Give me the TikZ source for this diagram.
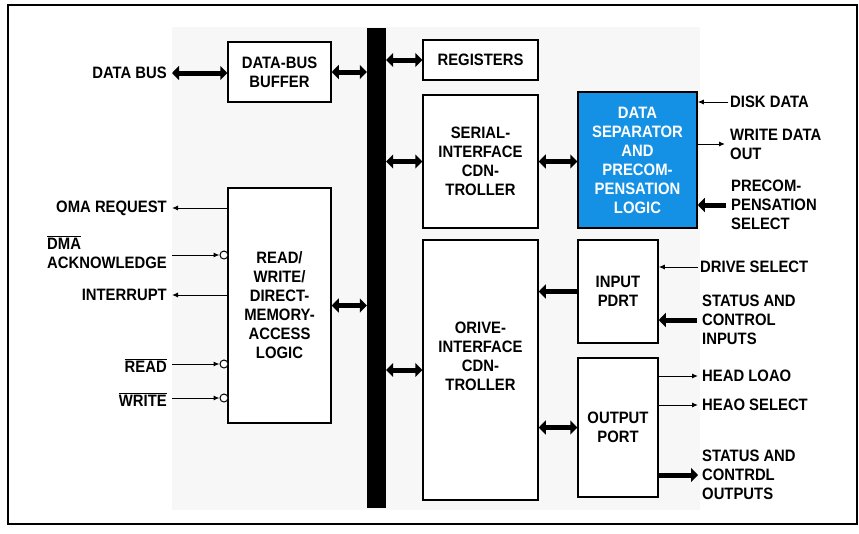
\documentclass[tikz,border=0pt]{standalone}
\usepackage{fontspec}
\setmainfont{Liberation Sans}[FakeStretch=0.9]
\usetikzlibrary{arrows.meta}
\definecolor{sepblue}{RGB}{20,145,228}
\newcommand{\ovl}[1]{$\overline{\mbox{#1}}$}

\begin{document}
\begin{tikzpicture}[x=1pt,y=-1pt,
    font=\fontsize{16.5}{19}\selectfont\bfseries,
    blok/.style={draw,line width=1.5pt,fill=white,align=center,inner sep=0pt},
    teks/.style={inner sep=0pt,align=left},
    sinyal/.style={line width=1pt,-{Latex[length=6pt,width=5pt]}},
    tebal/.style={line width=5pt,-{Triangle[length=7pt,width=14pt]}},
    duaarah/.style={line width=5pt,{Triangle[length=7pt,width=14pt]}-{Triangle[length=7pt,width=14pt]}},
    bulat/.style={circle,draw,line width=1pt,fill=white,minimum size=8pt,inner sep=0pt}]
    \useasboundingbox (0,0) rectangle (859,533);
    % Bingkai
    \draw[line width=1.5pt] (8,5) rectangle (857,524);
    \fill[black!3] (172,27) rectangle (700,510);
    % Bus
    \node[fill=black,minimum width=19pt,minimum height=480pt,inner sep=0pt] (bus) at (376.5,268) {};
    % Blok
    \node[blok,minimum width=103pt,minimum height=60pt] (buf) at (279.5,72) {DATA-BUS\\BUFFER};
    \node[blok,minimum width=103pt,minimum height=235pt] (rw) at (279.5,305.5) {READ/\\WRITE/\\DIRECT-\\MEMORY-\\ACCESS\\LOGIC};
    \node[blok,minimum width=115pt,minimum height=40pt] (reg) at (480.5,60) {REGISTERS};
    \node[blok,minimum width=115pt,minimum height=133pt] (sic) at (480.5,161.5) {SERIAL-\\INTERFACE\\CDN-\\TROLLER};
    \node[blok,minimum width=115pt,minimum height=260pt] (dic) at (480.5,370) {};
    \node[inner sep=0pt,align=center] (dictext) at ([yshift=14pt]dic.center) {ORIVE-\\INTERFACE\\CDN-\\TROLLER};
    \node[blok,fill=sepblue,text=white,minimum width=119pt,minimum height=136pt] (dsp) at (637.5,160) {DATA\\SEPARATOR\\AND\\PRECOM-\\PENSATION\\LOGIC};
    \node[blok,minimum width=80pt,minimum height=103pt] (inp) at (618,291.5) {INPUT\\PDRT};
    \node[blok,minimum width=80pt,minimum height=139pt] (outp) at (618,427.5) {OUTPUT\\PORT};
    % Ke bus
    \draw[duaarah] (buf.east) -- (bus.west |- buf.east);
    \draw[duaarah] (rw.east) -- (bus.west |- rw.east);
    \draw[duaarah] (bus.east |- reg.west) -- (reg.west);
    \draw[duaarah] (bus.east |- sic.west) -- (sic.west);
    \draw[duaarah] (bus.east |- dic.west) -- (dic.west);
    \draw[duaarah] (sic.east) -- (dsp.west |- sic.east);
    \draw[tebal] (inp.west) -- (dic.east |- inp.west);
    \draw[duaarah] (outp.west) -- (dic.east |- outp.west);
    % Sinyal kiri
    \node[teks,anchor=east] (databus) at (167,73) {DATA BUS};
    \draw[duaarah] ([xshift=5pt]databus.east) -- (buf.west |- databus.east);
    \node[teks,anchor=east] (omareq) at (167,208) {OMA REQUEST};
    \draw[sinyal] (rw.west |- omareq.east) -- ([xshift=5pt]omareq.east);
    \node[bulat] (bdma) at (224,255) {};
    \node[teks,anchor=east] (dmaack) at (167,252) {\ovl{DMA}\\ACKNOWLEDGE};
    \draw[sinyal] ([xshift=5pt]dmaack.east |- bdma.west) -- (bdma.west);
    \node[teks,anchor=east] (intr) at (167,295) {INTERRUPT};
    \draw[sinyal] (rw.west |- intr.east) -- ([xshift=5pt]intr.east);
    \node[bulat] (bread) at (224,364) {};
    \node[teks,anchor=base east] (read) at (167,372) {\ovl{READ}};
    \draw[sinyal] ([xshift=5pt]read.east |- bread.west) -- (bread.west);
    \node[bulat] (bwrite) at (224,398) {};
    \node[teks,anchor=base east] (write) at (167,406) {\ovl{WRITE}};
    \draw[sinyal] ([xshift=5pt]write.east |- bwrite.west) -- (bwrite.west);
    % Sinyal kanan
    \node[teks,anchor=west] (disk) at (730,102) {DISK DATA};
    \draw[sinyal] ([xshift=-2pt]disk.west) -- (dsp.east |- disk.west);
    \node[teks,anchor=west] (wdata) at (730,144) {WRITE DATA\\OUT};
    \draw[sinyal] (dsp.east |- wdata.west) -- ([xshift=-5pt]wdata.west);
    \node[teks,anchor=west] (precom) at (731,205) {PRECOM-\\PENSATION\\SELECT};
    \draw[tebal] ([xshift=-5pt]precom.west) -- (dsp.east |- precom.west);
    \node[teks,anchor=west] (drsel) at (700,267) {DRIVE SELECT};
    \draw[sinyal] ([xshift=-2pt]drsel.west) -- (inp.east |- drsel.west);
    \node[teks,anchor=west] (stin) at (702,320) {STATUS AND\\CONTROL\\INPUTS};
    \draw[tebal] ([xshift=-5pt]stin.west) -- (inp.east |- stin.west);
    \node[teks,anchor=west] (hload) at (702,376) {HEAD LOAO};
    \draw[sinyal] (outp.east |- hload.west) -- ([xshift=-4pt]hload.west);
    \node[teks,anchor=west] (hsel) at (702,405) {HEAO SELECT};
    \draw[sinyal] (outp.east |- hsel.west) -- ([xshift=-4pt]hsel.west);
    \node[teks,anchor=west] (stout) at (702,475) {STATUS AND\\CONTRDL\\OUTPUTS};
    \draw[tebal] (outp.east |- stout.west) -- ([xshift=-4pt]stout.west);
\end{tikzpicture}
\end{document}
